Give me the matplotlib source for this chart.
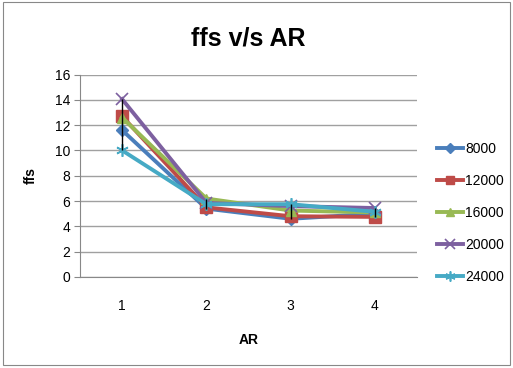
import matplotlib
matplotlib.use("Agg")
import matplotlib.pyplot as plt
from matplotlib.patches import Rectangle
import numpy as np

categories = ["1", "2", "3", "4"]
series_names = ["8000", "12000", "16000", "20000", "24000"]
s8000 = [11.6, 5.4, 4.6, 5.0]
s12000 = [12.7, 5.5, 4.8, 4.75]
s16000 = [12.6, 6.2, 5.25, 5.1]
s20000 = [14.05, 5.85, 5.6, 5.45]
s24000 = [10.0, 5.75, 5.75, 5.15]
yticks = [0, 2, 4, 6, 8, 10, 12, 14, 16]

colors = ["#4A7EBB", "#BE4B48", "#98B954", "#7D60A0", "#46AAC5"]
markers = ["D", "s", "^", "x", (6, 2, 0)]
msizes = [6, 8, 7, 9, 9]

plt.rcParams['font.family'] = ['Liberation Sans', 'DejaVu Sans']
fig = plt.figure(figsize=(5.13, 3.68), dpi=100)
fig.patches.append(Rectangle((0.006, 0.008), 0.988, 0.986, transform=fig.transFigure,
                             fill=False, edgecolor="#888888", lw=0.8))
ax = fig.add_axes([80/513, 1-277/368, (417-80)/513, (277-74.5)/368])

x = np.arange(1, len(categories) + 1)
data = [s8000, s12000, s16000, s20000, s24000]
arr = np.array(data)
ax.vlines(x, arr.min(axis=0), arr.max(axis=0), color="black", lw=1, zorder=4)
for vals, name, c, m, ms in zip(data, series_names, colors, markers, msizes):
    ax.plot(x, vals, color=c, lw=2.8, marker=m, markersize=ms, label=name,
            markeredgecolor=c, markeredgewidth=1.2 if m in ("x", (6, 2, 0)) else 1, zorder=3)

ax.set_xlim(0.5, 4.5)
ax.set_ylim(0, 16)
ax.set_yticks(yticks)
ax.set_xticks(x)
ax.set_xticklabels(categories)
ax.grid(axis="y", color="#A0A0A0", lw=1)
ax.set_axisbelow(True)
for s in ["top", "right"]:
    ax.spines[s].set_visible(False)
for s in ["left", "bottom"]:
    ax.spines[s].set_color("#888888")
ax.tick_params(axis="y", length=4, color="#888888", labelsize=10, pad=3)
ax.tick_params(axis="x", length=0, labelsize=10, pad=16)

ax.set_ylabel("ffs", fontsize=10, fontweight="bold", labelpad=12)
ax.set_xlabel("AR", fontsize=10, fontweight="bold", labelpad=14)
fig.text(248/513, 1-38/368, "ffs v/s AR", ha="center", va="center", fontsize=18, fontweight="bold")

handles, labels = ax.get_legend_handles_labels()
leg = fig.legend(handles, labels, loc="center left", bbox_to_anchor=(430/513, 1-213/368),
                 frameon=False, fontsize=10, labelspacing=1.3, handlelength=1.9,
                 handletextpad=0.15, borderpad=0, markerscale=0.8)

fig.savefig("out.png", dpi=100)
